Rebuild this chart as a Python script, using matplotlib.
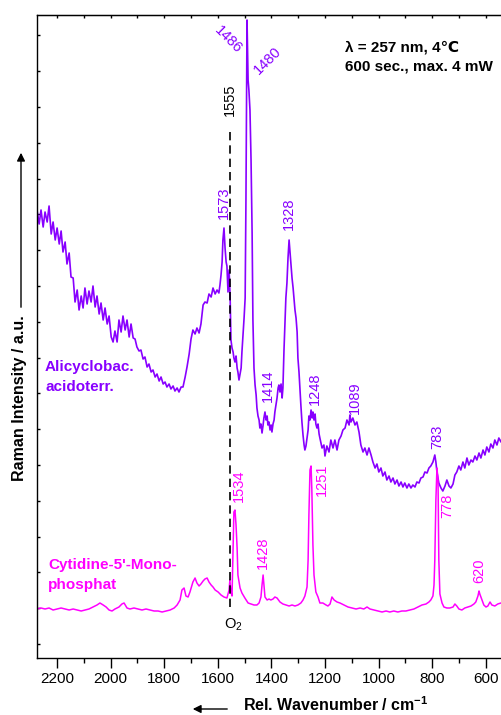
import matplotlib
matplotlib.use("Agg")
import matplotlib.pyplot as plt
from matplotlib.ticker import MultipleLocator

plt.rcParams["font.family"] = ["Liberation Sans", "DejaVu Sans"]
plt.rcParams["mathtext.fontset"] = "custom"
plt.rcParams["mathtext.rm"] = "Liberation Sans"
plt.rcParams["mathtext.bf"] = "Liberation Sans:bold"

PURPLE = "#8800ff"
MAGENTA = "#ff00ff"

# Alicyclobacillus acidoterrestris spectrum (wavenumber / cm-1, intensity a.u.)
bact_wn = [2275, 2267, 2260, 2252, 2245, 2237, 2230, 2222, 2215, 2207, 2200, 2192, 2185, 2178, 2170,
           2163, 2155, 2148, 2140, 2133, 2125, 2118, 2110, 2103, 2096, 2088, 2081, 2073, 2066, 2058,
           2051, 2043, 2036, 2028, 2021, 2013, 2006, 1998, 1991, 1984, 1976, 1969, 1961, 1954, 1946,
           1939, 1931, 1924, 1916, 1909, 1902, 1894, 1887, 1879, 1872, 1864, 1857, 1849, 1842, 1834,
           1827, 1819, 1812, 1804, 1797, 1790, 1782, 1775, 1767, 1760, 1752, 1745, 1737, 1730, 1722,
           1715, 1707, 1700, 1693, 1685, 1678, 1670, 1663, 1655, 1648, 1640, 1633, 1625, 1618, 1610,
           1603, 1596, 1592, 1588, 1584, 1581, 1577, 1573, 1569, 1566, 1562, 1558, 1554, 1551, 1547,
           1543, 1540, 1536, 1532, 1528, 1525, 1521, 1517, 1513, 1510, 1506, 1502, 1498, 1495, 1491,
           1487, 1484, 1480, 1476, 1472, 1469, 1465, 1461, 1457, 1454, 1450, 1446, 1443, 1439, 1435,
           1431, 1428, 1424, 1420, 1416, 1413, 1409, 1405, 1401, 1398, 1394, 1390, 1387, 1383, 1379,
           1375, 1372, 1368, 1364, 1360, 1357, 1353, 1349, 1346, 1342, 1338, 1334, 1331, 1327, 1323,
           1319, 1316, 1312, 1308, 1304, 1301, 1297, 1293, 1290, 1286, 1282, 1278, 1275, 1271, 1267,
           1263, 1260, 1256, 1252, 1248, 1245, 1241, 1237, 1234, 1230, 1226, 1222, 1219, 1211, 1204,
           1200, 1193, 1185, 1178, 1170, 1163, 1155, 1148, 1140, 1133, 1125, 1118, 1110, 1107, 1103,
           1096, 1088, 1081, 1073, 1066, 1058, 1051, 1043, 1036, 1028, 1021, 1013, 1006, 999, 991,
           984, 976, 969, 961, 954, 946, 939, 931, 924, 916, 909, 902, 894, 887, 879,
           872, 864, 857, 849, 842, 834, 827, 819, 812, 805, 797, 793, 790, 786, 782,
           778, 775, 767, 760, 752, 745, 737, 730, 722, 715, 708, 700, 693, 685, 678,
           670, 663, 655, 648, 640, 633, 625, 618, 610, 603, 596, 588, 581, 573, 566,
           558, 551, 543, 536]
bact_int = [434, 420, 434, 417, 432, 422, 438, 410, 422, 404, 416, 400, 413, 392, 402,
            380, 391, 367, 366, 342, 354, 334, 348, 336, 356, 340, 353, 342, 358, 337,
            348, 330, 341, 324, 336, 320, 328, 307, 302, 313, 302, 324, 312, 328, 314,
            324, 307, 320, 306, 305, 297, 293, 294, 285, 287, 277, 280, 272, 274, 267,
            270, 263, 267, 260, 262, 257, 260, 255, 258, 253, 256, 252, 257, 257, 267,
            277, 290, 305, 314, 310, 316, 311, 320, 339, 342, 341, 350, 347, 356, 350,
            354, 351, 359, 369, 382, 404, 416, 396, 382, 378, 352, 374, 346, 304, 296,
            292, 286, 282, 288, 276, 272, 264, 270, 276, 292, 309, 326, 346, 444, 624,
            564, 554, 534, 484, 411, 324, 276, 259, 249, 236, 228, 224, 216, 220, 211,
            219, 226, 232, 224, 228, 219, 222, 214, 219, 212, 220, 224, 232, 239, 246,
            256, 259, 252, 260, 246, 256, 294, 324, 346, 361, 386, 404, 394, 382, 366,
            356, 346, 334, 326, 312, 286, 272, 252, 239, 222, 209, 199, 194, 198, 206,
            214, 228, 224, 234, 226, 232, 224, 230, 220, 216, 220, 210, 206, 196, 199,
            188, 198, 192, 204, 196, 204, 194, 204, 208, 214, 216, 224, 219, 229, 222,
            226, 219, 222, 212, 199, 192, 196, 189, 196, 189, 182, 176, 180, 172, 176,
            168, 172, 164, 168, 162, 166, 160, 164, 158, 162, 157, 161, 156, 160, 156,
            159, 157, 162, 161, 166, 167, 172, 171, 176, 178, 182, 186, 189, 182, 172,
            166, 161, 156, 153, 158, 164, 158, 156, 160, 169, 172, 178, 174, 182, 176,
            186, 179, 184, 182, 188, 184, 191, 186, 194, 189, 197, 192, 200, 196, 204,
            199, 206, 202, 208]

# Cytidine-5'-monophosphate reference spectrum
cmp_wn = [2275, 2260, 2245, 2230, 2215, 2200, 2185, 2170, 2155, 2140, 2125, 2110, 2096, 2081, 2066,
          2051, 2040, 2028, 2017, 2006, 1995, 1984, 1969, 1958, 1950, 1939, 1928, 1913, 1898, 1883,
          1868, 1853, 1838, 1823, 1808, 1793, 1778, 1763, 1752, 1741, 1734, 1726, 1719, 1711, 1704,
          1693, 1685, 1678, 1670, 1663, 1655, 1648, 1640, 1633, 1625, 1618, 1610, 1599, 1588, 1577,
          1566, 1558, 1555, 1551, 1547, 1543, 1540, 1536, 1532, 1528, 1525, 1517, 1510, 1499, 1487,
          1476, 1465, 1454, 1446, 1439, 1435, 1431, 1428, 1424, 1416, 1409, 1402, 1394, 1387, 1379,
          1368, 1357, 1346, 1334, 1323, 1312, 1301, 1290, 1282, 1275, 1267, 1263, 1260, 1256, 1252,
          1249, 1245, 1241, 1234, 1226, 1219, 1208, 1196, 1189, 1181, 1174, 1166, 1155, 1144, 1129,
          1114, 1099, 1084, 1069, 1055, 1043, 1032, 1017, 1002, 987, 972, 958, 943, 928, 913,
          898, 883, 868, 853, 838, 823, 812, 805, 797, 793, 790, 786, 782, 778, 775,
          771, 763, 756, 745, 734, 722, 715, 708, 700, 689, 678, 666, 655, 644, 637,
          629, 625, 622, 614, 607, 599, 592, 584, 577, 566, 555, 543, 536]
cmp_int = [35, 36, 35, 36, 34, 35, 36, 35, 34, 35, 34, 33, 34, 35, 37,
           39, 41, 39, 37, 34, 33, 35, 37, 40, 41, 36, 35, 36, 35, 34,
           35, 34, 33, 33, 32, 33, 34, 36, 39, 44, 54, 56, 48, 47, 52,
           62, 66, 61, 58, 60, 63, 65, 66, 62, 59, 57, 54, 52, 49, 47,
           46, 54, 64, 52, 48, 94, 132, 134, 119, 96, 69, 56, 51, 46, 41,
           40, 39, 39, 41, 47, 59, 69, 59, 47, 44, 45, 44, 45, 47, 46,
           42, 40, 39, 38, 39, 38, 39, 41, 44, 48, 57, 84, 129, 174, 178,
           154, 99, 69, 52, 47, 41, 41, 39, 38, 40, 47, 44, 42, 41, 39,
           37, 36, 35, 36, 35, 37, 35, 34, 33, 32, 33, 32, 33, 32, 33,
           33, 34, 35, 37, 39, 40, 42, 44, 48, 59, 84, 144, 176, 164, 84,
           50, 41, 37, 36, 36, 37, 40, 38, 35, 34, 36, 37, 38, 40, 42,
           48, 53, 50, 44, 39, 37, 38, 42, 39, 38, 40, 41, 40]

# peak labels: (text, wavenumber, intensity, rotation)
bact_labels = [("1486", 1562, 604, -45), ("1480", 1416, 583, 45), ("1573", 1577, 441, 90),
               ("1328", 1334, 430, 90), ("1414", 1413, 258, 90), ("1248", 1237, 255, 90),
               ("1089", 1088, 246, 90), ("783", 782, 207, 90)]
cmp_labels = [("1534", 1521, 158, 90), ("1428", 1431, 91, 90), ("1251", 1211, 164, 90),
              ("778", 745, 138, 90), ("620", 625, 73, 90)]
O2_LINE = 1555

fig = plt.figure(figsize=(5.01, 7.15), dpi=100)
ax = fig.add_axes([37 / 501, 57 / 715, 483 / 501, 643 / 715])

ax.plot(bact_wn, bact_int, color=PURPLE, lw=1.2)
ax.plot(cmp_wn, cmp_int, color=MAGENTA, lw=1.1)
ax.vlines(O2_LINE, 37, 517, colors="black", linestyles=(0, (5, 3)), lw=1.2)

for txt, x, y, rot in bact_labels:
    ax.text(x, y, txt, color=PURPLE, fontsize=10.5, rotation=rot, ha="center", va="center",
            rotation_mode="anchor")
for txt, x, y, rot in cmp_labels:
    ax.text(x, y, txt, color=MAGENTA, fontsize=10.5, rotation=rot, ha="center", va="center",
            rotation_mode="anchor")
ax.text(O2_LINE, 544, "1555", color="black", fontsize=10.5, rotation=90, ha="center", va="center")
ax.text(1543, 19, r"O$_\mathregular{2}$", color="black", fontsize=10.5, ha="center", va="center")

ax.text(2245, 267, "Alicyclobac.\nacidoterr.", color=PURPLE, fontsize=11, fontweight="bold",
        ha="left", va="center", linespacing=1.5)
ax.text(2234, 69, "Cytidine-5'-Mono-\nphosphat", color=MAGENTA, fontsize=11, fontweight="bold",
        ha="left", va="center", linespacing=1.5)
ax.text(1125, 587, "λ = 257 nm, 4℃\n600 sec., max. 4 mW", color="black", fontsize=11,
        fontweight="bold", ha="left", va="center", linespacing=1.4)

ax.set_xlim(2275, 472)
ax.set_ylim(-14, 629)
ax.xaxis.set_major_locator(MultipleLocator(200))
ax.xaxis.set_minor_locator(MultipleLocator(100))
ax.yaxis.set_major_locator(MultipleLocator(35.8))
ax.set_yticklabels([])
ax.tick_params(axis="x", which="major", direction="out", length=7, width=1, labelsize=11, pad=3)
ax.tick_params(axis="x", which="minor", direction="out", length=3.5, width=1)
ax.tick_params(axis="y", which="major", direction="in", length=2, width=1, left=True, right=False)
for s in ax.spines.values():
    s.set_linewidth(1.0)
ax.spines["right"].set_visible(False)

top = ax.secondary_xaxis("top")
top.xaxis.set_major_locator(MultipleLocator(100))
top.tick_params(axis="x", direction="in", length=2, width=1, labeltop=False)

fig.text(20 / 501, (715 - 398) / 715, "Raman Intensity / a.u.", rotation=90, fontsize=11.5,
         fontweight="bold", ha="center", va="center")
fig.text(243 / 501, 10 / 715, r"Rel. Wavenumber / cm$^{\mathbf{-1}}$", fontsize=11.5,
         fontweight="bold", ha="left", va="center")
fig.add_artist(matplotlib.patches.FancyArrowPatch((21 / 501, 405 / 715), (21 / 501, 565 / 715),
               transform=fig.transFigure, arrowstyle="-|>", mutation_scale=12, color="black", lw=1))
fig.add_artist(matplotlib.patches.FancyArrowPatch((230 / 501, 6 / 715), (190 / 501, 6 / 715),
               transform=fig.transFigure, arrowstyle="-|>", mutation_scale=12, color="black", lw=1))

fig.savefig("out.png", dpi=100)
